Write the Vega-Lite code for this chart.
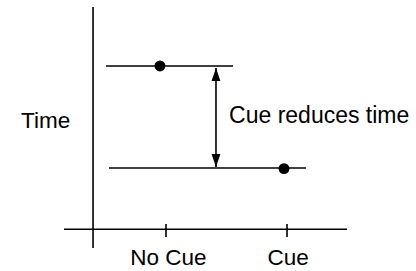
{
  "$schema": "https://vega.github.io/schema/vega-lite/v6.json",
  "width": 416,
  "height": 271,
  "autosize": {"type": "fit", "contains": "padding"},
  "padding": 0,
  "background": "white",
  "config": {"view": {"stroke": null}},
  "datasets": {
    "segments": [
      {"part": "y axis", "x": 0.397, "x2": 0.397, "y": 10.89, "y2": -0.92},
      {"part": "x axis", "x": 0.157, "x2": 2.496, "y": 0, "y2": 0},
      {"part": "tick No Cue", "x": 1, "x2": 1, "y": 0.255, "y2": -0.38},
      {"part": "tick Cue", "x": 2, "x2": 2, "y": 0.255, "y2": -0.38},
      {"part": "No Cue range", "x": 0.504, "x2": 1.554, "y": 8, "y2": 8},
      {"part": "Cue range", "x": 0.529, "x2": 2.157, "y": 3, "y2": 3},
      {"part": "difference", "x": 1.413, "x2": 1.413, "y": 7.9, "y2": 3.05}
    ],
    "means": [
      {"condition": "No Cue", "x": 0.95, "y": 8},
      {"condition": "Cue", "x": 1.975, "y": 2.97}
    ],
    "heads": [
      {"dir": "up", "x": 1.413, "y": 7.9},
      {"dir": "down", "x": 1.413, "y": 3.05}
    ],
    "centerLabels": [
      {"label": "No Cue", "x": 1.02, "y": -1.77},
      {"label": "Cue", "x": 2.01, "y": -1.77}
    ],
    "titleLabel": [
      {"label": "Time", "x": -0.198, "y": 4.98}
    ],
    "noteLabel": [
      {"label": "Cue reduces time", "x": 1.521, "y": 5.23}
    ]
  },
  "layer": [
    {
      "data": {"name": "segments"},
      "mark": {"type": "rule", "color": "black", "strokeWidth": 1.6},
      "encoding": {
        "x": {"field": "x", "type": "quantitative", "scale": {"domain": [-0.372, 3.066], "nice": false, "zero": false}, "axis": null},
        "x2": {"field": "x2"},
        "y": {"field": "y", "type": "quantitative", "scale": {"domain": [-2.049, 11.235], "nice": false, "zero": false}, "axis": null},
        "y2": {"field": "y2"}
      }
    },
    {
      "data": {"name": "means"},
      "mark": {"type": "point", "shape": "circle", "filled": true, "color": "black", "opacity": 1, "size": 120},
      "encoding": {
        "x": {"field": "x", "type": "quantitative"},
        "y": {"field": "y", "type": "quantitative"}
      }
    },
    {
      "data": {"name": "heads"},
      "mark": {"type": "point", "filled": true, "color": "black", "opacity": 1, "size": 676},
      "encoding": {
        "x": {"field": "x", "type": "quantitative"},
        "y": {"field": "y", "type": "quantitative"},
        "shape": {"field": "dir", "type": "nominal", "scale": {"domain": ["up", "down"], "range": ["M0,0L0.34,1L-0.34,1Z", "M0,0L0.34,-1L-0.34,-1Z"]}, "legend": null}
      }
    },
    {
      "data": {"name": "centerLabels"},
      "mark": {"type": "text", "align": "center", "baseline": "alphabetic", "font": "Liberation Sans", "fontSize": 22.5, "color": "black"},
      "encoding": {
        "x": {"field": "x", "type": "quantitative"},
        "y": {"field": "y", "type": "quantitative"},
        "text": {"field": "label"}
      }
    },
    {
      "data": {"name": "titleLabel"},
      "mark": {"type": "text", "align": "left", "baseline": "alphabetic", "font": "Liberation Sans", "fontSize": 22.5, "color": "black"},
      "encoding": {
        "x": {"field": "x", "type": "quantitative"},
        "y": {"field": "y", "type": "quantitative"},
        "text": {"field": "label"}
      }
    },
    {
      "data": {"name": "noteLabel"},
      "mark": {"type": "text", "align": "left", "baseline": "alphabetic", "font": "Liberation Sans", "fontSize": 23, "color": "black"},
      "encoding": {
        "x": {"field": "x", "type": "quantitative"},
        "y": {"field": "y", "type": "quantitative"},
        "text": {"field": "label"}
      }
    }
  ]
}
